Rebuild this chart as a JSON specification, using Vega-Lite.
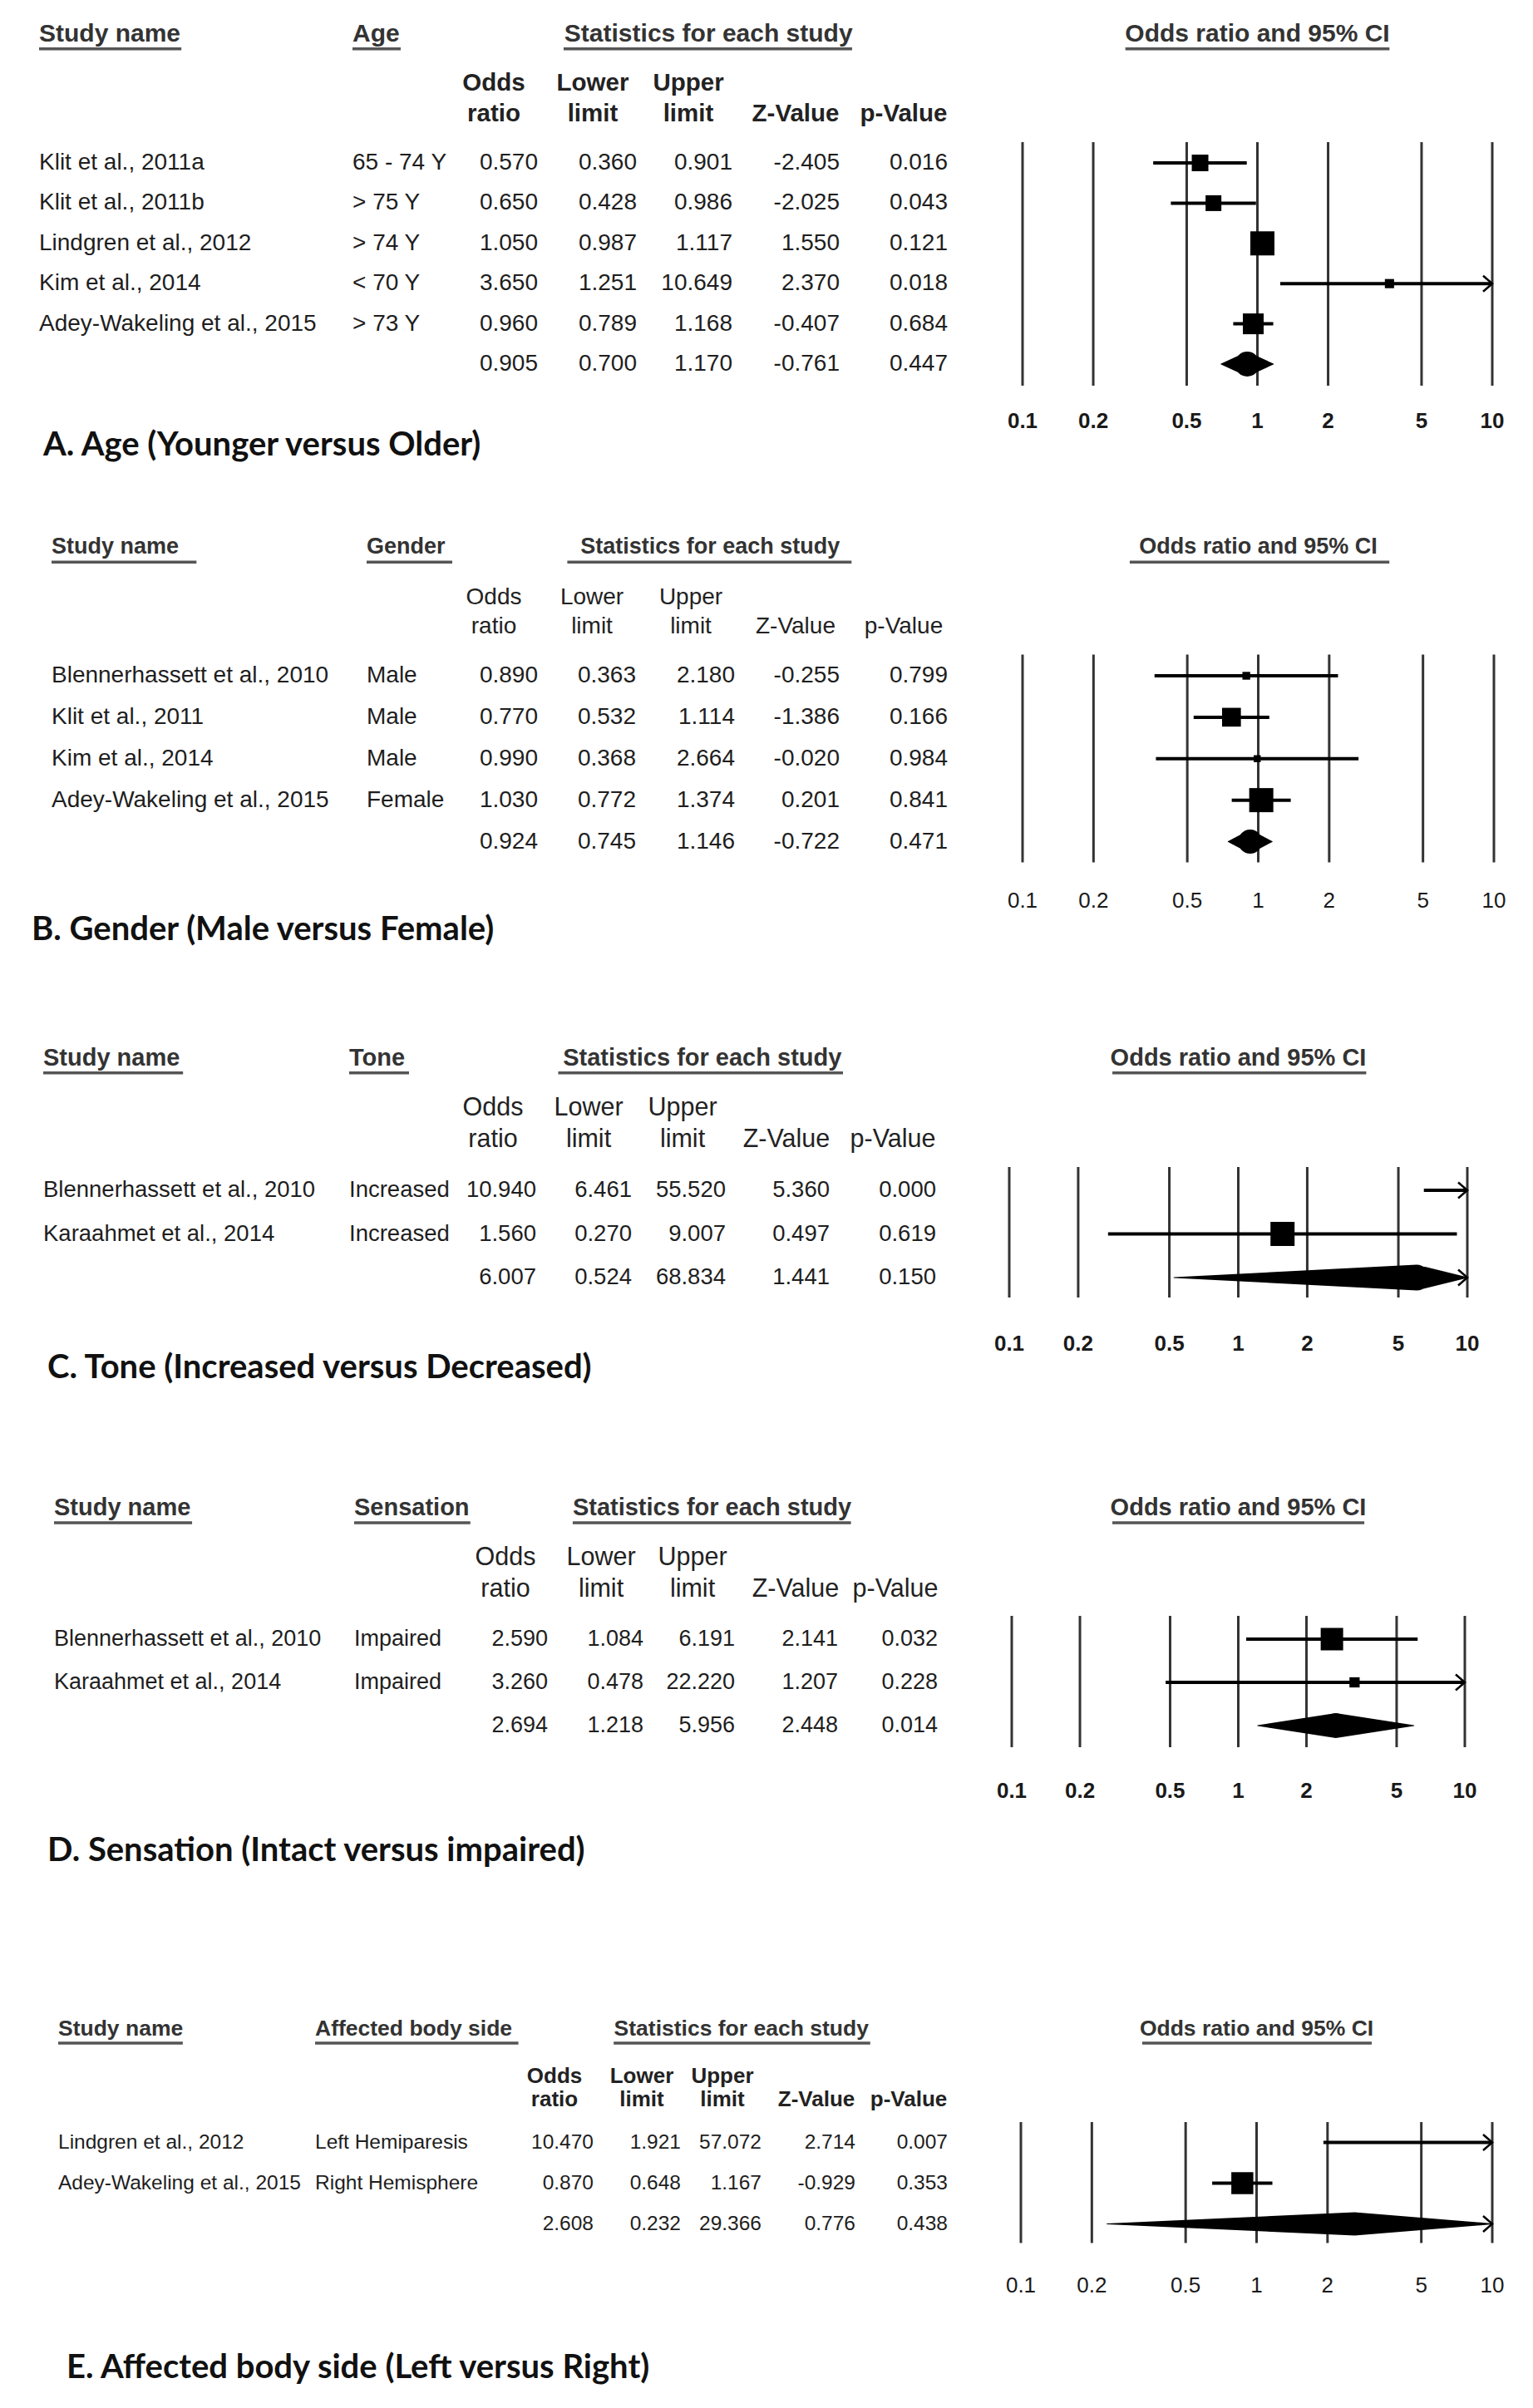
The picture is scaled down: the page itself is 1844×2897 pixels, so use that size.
{
"$schema": "https://vega.github.io/schema/vega-lite/v6.json",
"background": "white",
"padding": 0,
"spacing": 0,
"resolve": {"scale": {"size": "independent"}},
"config": {
  "view": {"stroke": null},
  "axis": {"disable": true},
  "legend": {"disable": true},
  "font": "Liberation Sans",
  "locale": {"number": {"decimal": ".", "thousands": ",", "grouping": [3], "currency": ["$", ""], "minus": "-"}}
},
"datasets": {
  "A": [
    {"row": 2, "study": "Klit et al., 2011a", "grp": "65 - 74 Y", "or": 0.570, "lo": 0.360, "hi": 0.901, "z": -2.405, "p": 0.016, "weight": 17.0},
    {"row": 3, "study": "Klit et al., 2011b", "grp": "> 75 Y", "or": 0.650, "lo": 0.428, "hi": 0.986, "z": -2.025, "p": 0.043, "weight": 15.4},
    {"row": 4, "study": "Lindgren et al., 2012", "grp": "> 74 Y", "or": 1.050, "lo": 0.987, "hi": 1.117, "z": 1.550, "p": 0.121, "weight": 35.8},
    {"row": 5, "study": "Kim et al., 2014", "grp": "< 70 Y", "or": 3.650, "lo": 1.251, "hi": 10.649, "z": 2.370, "p": 0.018, "weight": 5.2},
    {"row": 6, "study": "Adey-Wakeling et al., 2015", "grp": "> 73 Y", "or": 0.960, "lo": 0.789, "hi": 1.168, "z": -0.407, "p": 0.684, "weight": 26.6},
    {"row": 7, "or": 0.905, "lo": 0.700, "hi": 1.170, "z": -0.761, "p": 0.447}
  ],
  "B": [
    {"row": 2, "study": "Blennerhassett et al., 2010", "grp": "Male", "or": 0.890, "lo": 0.363, "hi": 2.180, "z": -0.255, "p": 0.799, "weight": 5.8},
    {"row": 3, "study": "Klit et al., 2011", "grp": "Male", "or": 0.770, "lo": 0.532, "hi": 1.114, "z": -1.386, "p": 0.166, "weight": 33.9},
    {"row": 4, "study": "Kim et al., 2014", "grp": "Male", "or": 0.990, "lo": 0.368, "hi": 2.664, "z": -0.020, "p": 0.984, "weight": 4.7},
    {"row": 5, "study": "Adey-Wakeling et al., 2015", "grp": "Female", "or": 1.030, "lo": 0.772, "hi": 1.374, "z": 0.201, "p": 0.841, "weight": 55.7},
    {"row": 6, "or": 0.924, "lo": 0.745, "hi": 1.146, "z": -0.722, "p": 0.471}
  ],
  "C": [
    {"row": 2, "study": "Blennerhassett et al., 2010", "grp": "Increased", "or": 10.940, "lo": 6.461, "hi": 55.520, "z": 5.360, "p": 0.000, "weight": 52.0},
    {"row": 3, "study": "Karaahmet et al., 2014", "grp": "Increased", "or": 1.560, "lo": 0.270, "hi": 9.007, "z": 0.497, "p": 0.619, "weight": 48.0},
    {"row": 4, "or": 6.007, "lo": 0.524, "hi": 68.834, "z": 1.441, "p": 0.150}
  ],
  "D": [
    {"row": 2, "study": "Blennerhassett et al., 2010", "grp": "Impaired", "or": 2.590, "lo": 1.084, "hi": 6.191, "z": 2.141, "p": 0.032, "weight": 82.9},
    {"row": 3, "study": "Karaahmet et al., 2014", "grp": "Impaired", "or": 3.260, "lo": 0.478, "hi": 22.220, "z": 1.207, "p": 0.228, "weight": 17.1},
    {"row": 4, "or": 2.694, "lo": 1.218, "hi": 5.956, "z": 2.448, "p": 0.014}
  ],
  "E": [
    {"row": 2, "study": "Lindgren et al., 2012", "grp": "Left Hemiparesis", "or": 10.470, "lo": 1.921, "hi": 57.072, "z": 2.714, "p": 0.007, "weight": 44.3},
    {"row": 3, "study": "Adey-Wakeling et al., 2015", "grp": "Right Hemisphere", "or": 0.870, "lo": 0.648, "hi": 1.167, "z": -0.929, "p": 0.353, "weight": 55.7},
    {"row": 4, "or": 2.608, "lo": 0.232, "hi": 29.366, "z": 0.776, "p": 0.438}
  ],
  "ticks": [{"t": 0.1}, {"t": 0.2}, {"t": 0.5}, {"t": 1}, {"t": 2}, {"t": 5}, {"t": 10}],
  "colheads": [{"col": 2, "label": "Odds\nratio"}, {"col": 3, "label": "Lower\nlimit"}, {"col": 4, "label": "Upper\nlimit"}, {"col": 5, "label": "\nZ-Value"}, {"col": 6, "label": "\np-Value"}],
  "one": [{}]
},
"vconcat": [
{"hconcat": [
  {"width": 1190, "height": 600, "data": {"name": "A"}, "layer": [
    {"transform": [{"filter": "isValid(datum.study)"}], "mark": {"type": "text", "align": "left", "baseline": "middle", "fontSize": 28, "fill": "#1e1e1e"}, "encoding": {"x": {"datum": 0, "type": "quantitative", "scale": {"domain": [0,1,2,3,4,5,6], "range": [47,424,647,766,881,1010,1140], "zero": false, "nice": false}}, "y": {"field": "row", "type": "quantitative", "scale": {"domain": [0,1,1.5,2,7,7.5,8,9], "range": [41,100,171,196,438,464,507,536], "zero": false, "nice": false}}, "text": {"field": "study"}}},
    {"transform": [{"filter": "isValid(datum.study)"}], "mark": {"type": "text", "align": "left", "baseline": "middle", "fontSize": 28, "fill": "#1e1e1e"}, "encoding": {"x": {"datum": 1, "type": "quantitative", "scale": {"domain": [0,1,2,3,4,5,6], "range": [47,424,647,766,881,1010,1140], "zero": false, "nice": false}}, "y": {"field": "row", "type": "quantitative", "scale": {"domain": [0,1,1.5,2,7,7.5,8,9], "range": [41,100,171,196,438,464,507,536], "zero": false, "nice": false}}, "text": {"field": "grp"}}},
    {"mark": {"type": "text", "align": "right", "baseline": "middle", "fontSize": 28, "fill": "#1e1e1e"}, "encoding": {"x": {"datum": 2, "type": "quantitative", "scale": {"domain": [0,1,2,3,4,5,6], "range": [47,424,647,766,881,1010,1140], "zero": false, "nice": false}}, "y": {"field": "row", "type": "quantitative", "scale": {"domain": [0,1,1.5,2,7,7.5,8,9], "range": [41,100,171,196,438,464,507,536], "zero": false, "nice": false}}, "text": {"field": "or", "type": "quantitative", "format": ".3f"}}},
    {"mark": {"type": "text", "align": "right", "baseline": "middle", "fontSize": 28, "fill": "#1e1e1e"}, "encoding": {"x": {"datum": 3, "type": "quantitative", "scale": {"domain": [0,1,2,3,4,5,6], "range": [47,424,647,766,881,1010,1140], "zero": false, "nice": false}}, "y": {"field": "row", "type": "quantitative", "scale": {"domain": [0,1,1.5,2,7,7.5,8,9], "range": [41,100,171,196,438,464,507,536], "zero": false, "nice": false}}, "text": {"field": "lo", "type": "quantitative", "format": ".3f"}}},
    {"mark": {"type": "text", "align": "right", "baseline": "middle", "fontSize": 28, "fill": "#1e1e1e"}, "encoding": {"x": {"datum": 4, "type": "quantitative", "scale": {"domain": [0,1,2,3,4,5,6], "range": [47,424,647,766,881,1010,1140], "zero": false, "nice": false}}, "y": {"field": "row", "type": "quantitative", "scale": {"domain": [0,1,1.5,2,7,7.5,8,9], "range": [41,100,171,196,438,464,507,536], "zero": false, "nice": false}}, "text": {"field": "hi", "type": "quantitative", "format": ".3f"}}},
    {"mark": {"type": "text", "align": "right", "baseline": "middle", "fontSize": 28, "fill": "#1e1e1e"}, "encoding": {"x": {"datum": 5, "type": "quantitative", "scale": {"domain": [0,1,2,3,4,5,6], "range": [47,424,647,766,881,1010,1140], "zero": false, "nice": false}}, "y": {"field": "row", "type": "quantitative", "scale": {"domain": [0,1,1.5,2,7,7.5,8,9], "range": [41,100,171,196,438,464,507,536], "zero": false, "nice": false}}, "text": {"field": "z", "type": "quantitative", "format": ".3f"}}},
    {"mark": {"type": "text", "align": "right", "baseline": "middle", "fontSize": 28, "fill": "#1e1e1e"}, "encoding": {"x": {"datum": 6, "type": "quantitative", "scale": {"domain": [0,1,2,3,4,5,6], "range": [47,424,647,766,881,1010,1140], "zero": false, "nice": false}}, "y": {"field": "row", "type": "quantitative", "scale": {"domain": [0,1,1.5,2,7,7.5,8,9], "range": [41,100,171,196,438,464,507,536], "zero": false, "nice": false}}, "text": {"field": "p", "type": "quantitative", "format": ".3f"}}},
    {"data": {"name": "one"}, "mark": {"type": "text", "text": "Study name", "align": "left", "baseline": "middle", "fontSize": 30, "fontWeight": "bold", "fill": "#333"}, "encoding": {"x": {"datum": 0, "type": "quantitative", "scale": {"domain": [0,1,2,3,4,5,6], "range": [47,424,647,766,881,1010,1140], "zero": false, "nice": false}}, "y": {"datum": 0, "type": "quantitative", "scale": {"domain": [0,1,1.5,2,7,7.5,8,9], "range": [41,100,171,196,438,464,507,536], "zero": false, "nice": false}}}},
    {"data": {"name": "one"}, "mark": {"type": "text", "text": "Age", "align": "left", "baseline": "middle", "fontSize": 30, "fontWeight": "bold", "fill": "#333"}, "encoding": {"x": {"datum": 1, "type": "quantitative", "scale": {"domain": [0,1,2,3,4,5,6], "range": [47,424,647,766,881,1010,1140], "zero": false, "nice": false}}, "y": {"datum": 0, "type": "quantitative", "scale": {"domain": [0,1,1.5,2,7,7.5,8,9], "range": [41,100,171,196,438,464,507,536], "zero": false, "nice": false}}}},
    {"data": {"name": "one"}, "mark": {"type": "text", "text": "Statistics for each study", "align": "center", "baseline": "middle", "fontSize": 30, "fontWeight": "bold", "fill": "#333"}, "encoding": {"x": {"datum": 3.75, "type": "quantitative", "scale": {"domain": [0,1,2,3,4,5,6], "range": [47,424,647,766,881,1010,1140], "zero": false, "nice": false}}, "y": {"datum": 0, "type": "quantitative", "scale": {"domain": [0,1,1.5,2,7,7.5,8,9], "range": [41,100,171,196,438,464,507,536], "zero": false, "nice": false}}}},
    {"data": {"name": "colheads"}, "mark": {"type": "text", "align": "center", "baseline": "middle", "dx": -53, "lineBreak": "\n", "lineHeight": 37, "fontSize": 29.5, "fontWeight": "bold", "fill": "#222"}, "encoding": {"x": {"field": "col", "type": "quantitative", "scale": {"domain": [0,1,2,3,4,5,6], "range": [47,424,647,766,881,1010,1140], "zero": false, "nice": false}}, "y": {"datum": 1, "type": "quantitative", "scale": {"domain": [0,1,1.5,2,7,7.5,8,9], "range": [41,100,171,196,438,464,507,536], "zero": false, "nice": false}}, "text": {"field": "label"}}},
    {"data": {"name": "one"}, "mark": {"type": "rule", "strokeWidth": 3.5, "color": "#555"}, "encoding": {"x": {"datum": 0, "type": "quantitative", "scale": {"domain": [0,1,2,3,4,5,6], "range": [47,424,647,766,881,1010,1140], "zero": false, "nice": false}}, "x2": {"datum": 0.454}, "y": {"datum": 0.3, "type": "quantitative", "scale": {"domain": [0,1,1.5,2,7,7.5,8,9], "range": [41,100,171,196,438,464,507,536], "zero": false, "nice": false}}}},
    {"data": {"name": "one"}, "mark": {"type": "rule", "strokeWidth": 3.5, "color": "#555"}, "encoding": {"x": {"datum": 1, "type": "quantitative", "scale": {"domain": [0,1,2,3,4,5,6], "range": [47,424,647,766,881,1010,1140], "zero": false, "nice": false}}, "x2": {"datum": 1.26}, "y": {"datum": 0.3, "type": "quantitative", "scale": {"domain": [0,1,1.5,2,7,7.5,8,9], "range": [41,100,171,196,438,464,507,536], "zero": false, "nice": false}}}},
    {"data": {"name": "one"}, "mark": {"type": "rule", "strokeWidth": 3.5, "color": "#555"}, "encoding": {"x": {"datum": 2.26, "type": "quantitative", "scale": {"domain": [0,1,2,3,4,5,6], "range": [47,424,647,766,881,1010,1140], "zero": false, "nice": false}}, "x2": {"datum": 5.115}, "y": {"datum": 0.3, "type": "quantitative", "scale": {"domain": [0,1,1.5,2,7,7.5,8,9], "range": [41,100,171,196,438,464,507,536], "zero": false, "nice": false}}}},
    {"data": {"name": "one"}, "mark": {"type": "text", "text": "A. Age (Younger versus Older)", "align": "left", "baseline": "middle", "dx": 5, "font": "Lato", "fontSize": 40, "fontWeight": "bold", "fill": "#111"}, "encoding": {"x": {"datum": 0, "type": "quantitative", "scale": {"domain": [0,1,2,3,4,5,6], "range": [47,424,647,766,881,1010,1140], "zero": false, "nice": false}}, "y": {"datum": 9, "type": "quantitative", "scale": {"domain": [0,1,1.5,2,7,7.5,8,9], "range": [41,100,171,196,438,464,507,536], "zero": false, "nice": false}}}}
  ]},
  {"width": 565, "height": 600, "data": {"name": "A"}, "layer": [
    {"data": {"name": "ticks"}, "mark": {"type": "rule", "strokeWidth": 3, "color": "#333"}, "encoding": {"x": {"field": "t", "type": "quantitative", "scale": {"type": "log", "domain": [0.1, 10], "clamp": true, "nice": false}}, "y": {"datum": 1.5, "type": "quantitative", "scale": {"domain": [0,1,1.5,2,7,7.5,8,9], "range": [41,100,171,196,438,464,507,536], "zero": false, "nice": false}}, "y2": {"datum": 7.5}}},
    {"data": {"name": "ticks"}, "mark": {"type": "text", "baseline": "middle", "fontSize": 26, "fontWeight": "bold", "fill": "#1a1a1a"}, "encoding": {"x": {"field": "t", "type": "quantitative", "scale": {"type": "log", "domain": [0.1, 10], "clamp": true, "nice": false}}, "y": {"datum": 8, "type": "quantitative", "scale": {"domain": [0,1,1.5,2,7,7.5,8,9], "range": [41,100,171,196,438,464,507,536], "zero": false, "nice": false}}, "text": {"field": "t", "type": "quantitative", "format": "~g"}}},
    {"data": {"name": "one"}, "mark": {"type": "text", "text": "Odds ratio and 95% CI", "baseline": "middle", "fontSize": 30, "fontWeight": "bold", "fill": "#333"}, "encoding": {"x": {"datum": 1, "type": "quantitative", "scale": {"type": "log", "domain": [0.1, 10], "clamp": true, "nice": false}}, "y": {"datum": 0, "type": "quantitative", "scale": {"domain": [0,1,1.5,2,7,7.5,8,9], "range": [41,100,171,196,438,464,507,536], "zero": false, "nice": false}}}},
    {"data": {"name": "one"}, "mark": {"type": "rule", "strokeWidth": 3.5, "color": "#555"}, "encoding": {"x": {"datum": 0.274, "type": "quantitative", "scale": {"type": "log", "domain": [0.1, 10], "clamp": true, "nice": false}}, "x2": {"datum": 3.65}, "y": {"datum": 0.3, "type": "quantitative", "scale": {"domain": [0,1,1.5,2,7,7.5,8,9], "range": [41,100,171,196,438,464,507,536], "zero": false, "nice": false}}}},
    {"transform": [{"filter": "isValid(datum.study)"}], "mark": {"type": "rule", "strokeWidth": 4, "color": "black"}, "encoding": {"x": {"field": "lo", "type": "quantitative", "scale": {"type": "log", "domain": [0.1, 10], "clamp": true, "nice": false}}, "x2": {"field": "hi"}, "y": {"field": "row", "type": "quantitative", "scale": {"domain": [0,1,1.5,2,7,7.5,8,9], "range": [41,100,171,196,438,464,507,536], "zero": false, "nice": false}}}},
    {"transform": [{"filter": "isValid(datum.study) && datum.or <= 10"}], "mark": {"type": "point", "shape": "square", "filled": true, "color": "black", "opacity": 1}, "encoding": {"x": {"field": "or", "type": "quantitative", "scale": {"type": "log", "domain": [0.1, 10], "clamp": true, "nice": false}}, "y": {"field": "row", "type": "quantitative", "scale": {"domain": [0,1,1.5,2,7,7.5,8,9], "range": [41,100,171,196,438,464,507,536], "zero": false, "nice": false}}, "size": {"field": "weight", "type": "quantitative", "scale": {"domain": [0, 35.8], "range": [0, 841]}, "legend": null}}},
    {"transform": [{"filter": "datum.hi > 10"}], "mark": {"type": "point", "shape": "M-1.1,-0.95L0,0L-1.1,0.95", "filled": false, "stroke": "black", "strokeWidth": 2.5, "size": 400, "opacity": 1}, "encoding": {"x": {"datum": 10, "type": "quantitative", "scale": {"type": "log", "domain": [0.1, 10], "clamp": true, "nice": false}}, "y": {"field": "row", "type": "quantitative", "scale": {"domain": [0,1,1.5,2,7,7.5,8,9], "range": [41,100,171,196,438,464,507,536], "zero": false, "nice": false}}}},
    {"transform": [{"filter": "!isValid(datum.study)"}, {"fold": ["lo", "or", "hi"]}], "mark": {"type": "trail", "color": "black"}, "encoding": {"x": {"field": "value", "type": "quantitative", "scale": {"type": "log", "domain": [0.1, 10], "clamp": true, "nice": false}}, "y": {"field": "row", "type": "quantitative", "scale": {"domain": [0,1,1.5,2,7,7.5,8,9], "range": [41,100,171,196,438,464,507,536], "zero": false, "nice": false}}, "size": {"condition": {"test": "datum.key === 'or'", "value": 30}, "value": 0}}}
  ]}
], "spacing": 40, "bounds": "flush", "resolve": {"scale": {"size": "independent"}}},

{"hconcat": [
  {"width": 1190, "height": 600, "data": {"name": "B"}, "layer": [
    {"transform": [{"filter": "isValid(datum.study)"}], "mark": {"type": "text", "align": "left", "baseline": "middle", "fontSize": 28, "fill": "#1e1e1e"}, "encoding": {"x": {"datum": 0, "type": "quantitative", "scale": {"domain": [0,1,2,3,4,5,6], "range": [62,441,647,765,884,1010,1140], "zero": false, "nice": false}}, "y": {"field": "row", "type": "quantitative", "scale": {"domain": [0,1,1.5,2,6,6.5,7,8], "range": [58,119,187.5,213,412.5,437.5,484,519], "zero": false, "nice": false}}, "text": {"field": "study"}}},
    {"transform": [{"filter": "isValid(datum.study)"}], "mark": {"type": "text", "align": "left", "baseline": "middle", "fontSize": 28, "fill": "#1e1e1e"}, "encoding": {"x": {"datum": 1, "type": "quantitative", "scale": {"domain": [0,1,2,3,4,5,6], "range": [62,441,647,765,884,1010,1140], "zero": false, "nice": false}}, "y": {"field": "row", "type": "quantitative", "scale": {"domain": [0,1,1.5,2,6,6.5,7,8], "range": [58,119,187.5,213,412.5,437.5,484,519], "zero": false, "nice": false}}, "text": {"field": "grp"}}},
    {"mark": {"type": "text", "align": "right", "baseline": "middle", "fontSize": 28, "fill": "#1e1e1e"}, "encoding": {"x": {"datum": 2, "type": "quantitative", "scale": {"domain": [0,1,2,3,4,5,6], "range": [62,441,647,765,884,1010,1140], "zero": false, "nice": false}}, "y": {"field": "row", "type": "quantitative", "scale": {"domain": [0,1,1.5,2,6,6.5,7,8], "range": [58,119,187.5,213,412.5,437.5,484,519], "zero": false, "nice": false}}, "text": {"field": "or", "type": "quantitative", "format": ".3f"}}},
    {"mark": {"type": "text", "align": "right", "baseline": "middle", "fontSize": 28, "fill": "#1e1e1e"}, "encoding": {"x": {"datum": 3, "type": "quantitative", "scale": {"domain": [0,1,2,3,4,5,6], "range": [62,441,647,765,884,1010,1140], "zero": false, "nice": false}}, "y": {"field": "row", "type": "quantitative", "scale": {"domain": [0,1,1.5,2,6,6.5,7,8], "range": [58,119,187.5,213,412.5,437.5,484,519], "zero": false, "nice": false}}, "text": {"field": "lo", "type": "quantitative", "format": ".3f"}}},
    {"mark": {"type": "text", "align": "right", "baseline": "middle", "fontSize": 28, "fill": "#1e1e1e"}, "encoding": {"x": {"datum": 4, "type": "quantitative", "scale": {"domain": [0,1,2,3,4,5,6], "range": [62,441,647,765,884,1010,1140], "zero": false, "nice": false}}, "y": {"field": "row", "type": "quantitative", "scale": {"domain": [0,1,1.5,2,6,6.5,7,8], "range": [58,119,187.5,213,412.5,437.5,484,519], "zero": false, "nice": false}}, "text": {"field": "hi", "type": "quantitative", "format": ".3f"}}},
    {"mark": {"type": "text", "align": "right", "baseline": "middle", "fontSize": 28, "fill": "#1e1e1e"}, "encoding": {"x": {"datum": 5, "type": "quantitative", "scale": {"domain": [0,1,2,3,4,5,6], "range": [62,441,647,765,884,1010,1140], "zero": false, "nice": false}}, "y": {"field": "row", "type": "quantitative", "scale": {"domain": [0,1,1.5,2,6,6.5,7,8], "range": [58,119,187.5,213,412.5,437.5,484,519], "zero": false, "nice": false}}, "text": {"field": "z", "type": "quantitative", "format": ".3f"}}},
    {"mark": {"type": "text", "align": "right", "baseline": "middle", "fontSize": 28, "fill": "#1e1e1e"}, "encoding": {"x": {"datum": 6, "type": "quantitative", "scale": {"domain": [0,1,2,3,4,5,6], "range": [62,441,647,765,884,1010,1140], "zero": false, "nice": false}}, "y": {"field": "row", "type": "quantitative", "scale": {"domain": [0,1,1.5,2,6,6.5,7,8], "range": [58,119,187.5,213,412.5,437.5,484,519], "zero": false, "nice": false}}, "text": {"field": "p", "type": "quantitative", "format": ".3f"}}},
    {"data": {"name": "one"}, "mark": {"type": "text", "text": "Study name", "align": "left", "baseline": "middle", "fontSize": 27, "fontWeight": "bold", "fill": "#333"}, "encoding": {"x": {"datum": 0, "type": "quantitative", "scale": {"domain": [0,1,2,3,4,5,6], "range": [62,441,647,765,884,1010,1140], "zero": false, "nice": false}}, "y": {"datum": 0, "type": "quantitative", "scale": {"domain": [0,1,1.5,2,6,6.5,7,8], "range": [58,119,187.5,213,412.5,437.5,484,519], "zero": false, "nice": false}}}},
    {"data": {"name": "one"}, "mark": {"type": "text", "text": "Gender", "align": "left", "baseline": "middle", "fontSize": 27, "fontWeight": "bold", "fill": "#333"}, "encoding": {"x": {"datum": 1, "type": "quantitative", "scale": {"domain": [0,1,2,3,4,5,6], "range": [62,441,647,765,884,1010,1140], "zero": false, "nice": false}}, "y": {"datum": 0, "type": "quantitative", "scale": {"domain": [0,1,1.5,2,6,6.5,7,8], "range": [58,119,187.5,213,412.5,437.5,484,519], "zero": false, "nice": false}}}},
    {"data": {"name": "one"}, "mark": {"type": "text", "text": "Statistics for each study", "align": "center", "baseline": "middle", "fontSize": 27, "fontWeight": "bold", "fill": "#333"}, "encoding": {"x": {"datum": 3.75, "type": "quantitative", "scale": {"domain": [0,1,2,3,4,5,6], "range": [62,441,647,765,884,1010,1140], "zero": false, "nice": false}}, "y": {"datum": 0, "type": "quantitative", "scale": {"domain": [0,1,1.5,2,6,6.5,7,8], "range": [58,119,187.5,213,412.5,437.5,484,519], "zero": false, "nice": false}}}},
    {"data": {"name": "colheads"}, "mark": {"type": "text", "align": "center", "baseline": "middle", "dx": -53, "lineBreak": "\n", "lineHeight": 35, "fontSize": 28, "fill": "#222"}, "encoding": {"x": {"field": "col", "type": "quantitative", "scale": {"domain": [0,1,2,3,4,5,6], "range": [62,441,647,765,884,1010,1140], "zero": false, "nice": false}}, "y": {"datum": 1, "type": "quantitative", "scale": {"domain": [0,1,1.5,2,6,6.5,7,8], "range": [58,119,187.5,213,412.5,437.5,484,519], "zero": false, "nice": false}}, "text": {"field": "label"}}},
    {"data": {"name": "one"}, "mark": {"type": "rule", "strokeWidth": 3.5, "color": "#555"}, "encoding": {"x": {"datum": 0, "type": "quantitative", "scale": {"domain": [0,1,2,3,4,5,6], "range": [62,441,647,765,884,1010,1140], "zero": false, "nice": false}}, "x2": {"datum": 0.46}, "y": {"datum": 0.3, "type": "quantitative", "scale": {"domain": [0,1,1.5,2,6,6.5,7,8], "range": [58,119,187.5,213,412.5,437.5,484,519], "zero": false, "nice": false}}}},
    {"data": {"name": "one"}, "mark": {"type": "rule", "strokeWidth": 3.5, "color": "#555"}, "encoding": {"x": {"datum": 1, "type": "quantitative", "scale": {"domain": [0,1,2,3,4,5,6], "range": [62,441,647,765,884,1010,1140], "zero": false, "nice": false}}, "x2": {"datum": 1.5}, "y": {"datum": 0.3, "type": "quantitative", "scale": {"domain": [0,1,1.5,2,6,6.5,7,8], "range": [58,119,187.5,213,412.5,437.5,484,519], "zero": false, "nice": false}}}},
    {"data": {"name": "one"}, "mark": {"type": "rule", "strokeWidth": 3.5, "color": "#555"}, "encoding": {"x": {"datum": 2.3, "type": "quantitative", "scale": {"domain": [0,1,2,3,4,5,6], "range": [62,441,647,765,884,1010,1140], "zero": false, "nice": false}}, "x2": {"datum": 5.11}, "y": {"datum": 0.3, "type": "quantitative", "scale": {"domain": [0,1,1.5,2,6,6.5,7,8], "range": [58,119,187.5,213,412.5,437.5,484,519], "zero": false, "nice": false}}}},
    {"data": {"name": "one"}, "mark": {"type": "text", "text": "B. Gender (Male versus Female)", "align": "left", "baseline": "middle", "dx": -24, "font": "Lato", "fontSize": 40, "fontWeight": "bold", "fill": "#111"}, "encoding": {"x": {"datum": 0, "type": "quantitative", "scale": {"domain": [0,1,2,3,4,5,6], "range": [62,441,647,765,884,1010,1140], "zero": false, "nice": false}}, "y": {"datum": 8, "type": "quantitative", "scale": {"domain": [0,1,1.5,2,6,6.5,7,8], "range": [58,119,187.5,213,412.5,437.5,484,519], "zero": false, "nice": false}}}}
  ]},
  {"width": 567, "height": 600, "data": {"name": "B"}, "layer": [
    {"data": {"name": "ticks"}, "mark": {"type": "rule", "strokeWidth": 3, "color": "#333"}, "encoding": {"x": {"field": "t", "type": "quantitative", "scale": {"type": "log", "domain": [0.1, 10], "clamp": true, "nice": false}}, "y": {"datum": 1.5, "type": "quantitative", "scale": {"domain": [0,1,1.5,2,6,6.5,7,8], "range": [58,119,187.5,213,412.5,437.5,484,519], "zero": false, "nice": false}}, "y2": {"datum": 6.5}}},
    {"data": {"name": "ticks"}, "mark": {"type": "text", "baseline": "middle", "fontSize": 26, "fill": "#1a1a1a"}, "encoding": {"x": {"field": "t", "type": "quantitative", "scale": {"type": "log", "domain": [0.1, 10], "clamp": true, "nice": false}}, "y": {"datum": 7, "type": "quantitative", "scale": {"domain": [0,1,1.5,2,6,6.5,7,8], "range": [58,119,187.5,213,412.5,437.5,484,519], "zero": false, "nice": false}}, "text": {"field": "t", "type": "quantitative", "format": "~g"}}},
    {"data": {"name": "one"}, "mark": {"type": "text", "text": "Odds ratio and 95% CI", "baseline": "middle", "fontSize": 27, "fontWeight": "bold", "fill": "#333"}, "encoding": {"x": {"datum": 1, "type": "quantitative", "scale": {"type": "log", "domain": [0.1, 10], "clamp": true, "nice": false}}, "y": {"datum": 0, "type": "quantitative", "scale": {"domain": [0,1,1.5,2,6,6.5,7,8], "range": [58,119,187.5,213,412.5,437.5,484,519], "zero": false, "nice": false}}}},
    {"data": {"name": "one"}, "mark": {"type": "rule", "strokeWidth": 3.5, "color": "#555"}, "encoding": {"x": {"datum": 0.285, "type": "quantitative", "scale": {"type": "log", "domain": [0.1, 10], "clamp": true, "nice": false}}, "x2": {"datum": 3.6}, "y": {"datum": 0.3, "type": "quantitative", "scale": {"domain": [0,1,1.5,2,6,6.5,7,8], "range": [58,119,187.5,213,412.5,437.5,484,519], "zero": false, "nice": false}}}},
    {"transform": [{"filter": "isValid(datum.study)"}], "mark": {"type": "rule", "strokeWidth": 4, "color": "black"}, "encoding": {"x": {"field": "lo", "type": "quantitative", "scale": {"type": "log", "domain": [0.1, 10], "clamp": true, "nice": false}}, "x2": {"field": "hi"}, "y": {"field": "row", "type": "quantitative", "scale": {"domain": [0,1,1.5,2,6,6.5,7,8], "range": [58,119,187.5,213,412.5,437.5,484,519], "zero": false, "nice": false}}}},
    {"transform": [{"filter": "isValid(datum.study) && datum.or <= 10"}], "mark": {"type": "point", "shape": "square", "filled": true, "color": "black", "opacity": 1}, "encoding": {"x": {"field": "or", "type": "quantitative", "scale": {"type": "log", "domain": [0.1, 10], "clamp": true, "nice": false}}, "y": {"field": "row", "type": "quantitative", "scale": {"domain": [0,1,1.5,2,6,6.5,7,8], "range": [58,119,187.5,213,412.5,437.5,484,519], "zero": false, "nice": false}}, "size": {"field": "weight", "type": "quantitative", "scale": {"domain": [0, 55.7], "range": [0, 841]}, "legend": null}}},
    {"transform": [{"filter": "!isValid(datum.study)"}, {"fold": ["lo", "or", "hi"]}], "mark": {"type": "trail", "color": "black"}, "encoding": {"x": {"field": "value", "type": "quantitative", "scale": {"type": "log", "domain": [0.1, 10], "clamp": true, "nice": false}}, "y": {"field": "row", "type": "quantitative", "scale": {"domain": [0,1,1.5,2,6,6.5,7,8], "range": [58,119,187.5,213,412.5,437.5,484,519], "zero": false, "nice": false}}, "size": {"condition": {"test": "datum.key === 'or'", "value": 29}, "value": 0}}}
  ]}
], "spacing": 40, "bounds": "flush", "resolve": {"scale": {"size": "independent"}}},

{"hconcat": [
  {"width": 1174, "height": 520, "data": {"name": "C"}, "layer": [
    {"transform": [{"filter": "isValid(datum.study)"}], "mark": {"type": "text", "align": "left", "baseline": "middle", "fontSize": 27.5, "fill": "#1e1e1e"}, "encoding": {"x": {"datum": 0, "type": "quantitative", "scale": {"domain": [0,1,2,3,4,5,6], "range": [52,420,645,760,873,998,1126], "zero": false, "nice": false}}, "y": {"field": "row", "type": "quantitative", "scale": {"domain": [0,1,1.5,2,4,4.5,5,6], "range": [73,132.5,204,232,337,361,417,446], "zero": false, "nice": false}}, "text": {"field": "study"}}},
    {"transform": [{"filter": "isValid(datum.study)"}], "mark": {"type": "text", "align": "left", "baseline": "middle", "fontSize": 27.5, "fill": "#1e1e1e"}, "encoding": {"x": {"datum": 1, "type": "quantitative", "scale": {"domain": [0,1,2,3,4,5,6], "range": [52,420,645,760,873,998,1126], "zero": false, "nice": false}}, "y": {"field": "row", "type": "quantitative", "scale": {"domain": [0,1,1.5,2,4,4.5,5,6], "range": [73,132.5,204,232,337,361,417,446], "zero": false, "nice": false}}, "text": {"field": "grp"}}},
    {"mark": {"type": "text", "align": "right", "baseline": "middle", "fontSize": 27.5, "fill": "#1e1e1e"}, "encoding": {"x": {"datum": 2, "type": "quantitative", "scale": {"domain": [0,1,2,3,4,5,6], "range": [52,420,645,760,873,998,1126], "zero": false, "nice": false}}, "y": {"field": "row", "type": "quantitative", "scale": {"domain": [0,1,1.5,2,4,4.5,5,6], "range": [73,132.5,204,232,337,361,417,446], "zero": false, "nice": false}}, "text": {"field": "or", "type": "quantitative", "format": ".3f"}}},
    {"mark": {"type": "text", "align": "right", "baseline": "middle", "fontSize": 27.5, "fill": "#1e1e1e"}, "encoding": {"x": {"datum": 3, "type": "quantitative", "scale": {"domain": [0,1,2,3,4,5,6], "range": [52,420,645,760,873,998,1126], "zero": false, "nice": false}}, "y": {"field": "row", "type": "quantitative", "scale": {"domain": [0,1,1.5,2,4,4.5,5,6], "range": [73,132.5,204,232,337,361,417,446], "zero": false, "nice": false}}, "text": {"field": "lo", "type": "quantitative", "format": ".3f"}}},
    {"mark": {"type": "text", "align": "right", "baseline": "middle", "fontSize": 27.5, "fill": "#1e1e1e"}, "encoding": {"x": {"datum": 4, "type": "quantitative", "scale": {"domain": [0,1,2,3,4,5,6], "range": [52,420,645,760,873,998,1126], "zero": false, "nice": false}}, "y": {"field": "row", "type": "quantitative", "scale": {"domain": [0,1,1.5,2,4,4.5,5,6], "range": [73,132.5,204,232,337,361,417,446], "zero": false, "nice": false}}, "text": {"field": "hi", "type": "quantitative", "format": ".3f"}}},
    {"mark": {"type": "text", "align": "right", "baseline": "middle", "fontSize": 27.5, "fill": "#1e1e1e"}, "encoding": {"x": {"datum": 5, "type": "quantitative", "scale": {"domain": [0,1,2,3,4,5,6], "range": [52,420,645,760,873,998,1126], "zero": false, "nice": false}}, "y": {"field": "row", "type": "quantitative", "scale": {"domain": [0,1,1.5,2,4,4.5,5,6], "range": [73,132.5,204,232,337,361,417,446], "zero": false, "nice": false}}, "text": {"field": "z", "type": "quantitative", "format": ".3f"}}},
    {"mark": {"type": "text", "align": "right", "baseline": "middle", "fontSize": 27.5, "fill": "#1e1e1e"}, "encoding": {"x": {"datum": 6, "type": "quantitative", "scale": {"domain": [0,1,2,3,4,5,6], "range": [52,420,645,760,873,998,1126], "zero": false, "nice": false}}, "y": {"field": "row", "type": "quantitative", "scale": {"domain": [0,1,1.5,2,4,4.5,5,6], "range": [73,132.5,204,232,337,361,417,446], "zero": false, "nice": false}}, "text": {"field": "p", "type": "quantitative", "format": ".3f"}}},
    {"data": {"name": "one"}, "mark": {"type": "text", "text": "Study name", "align": "left", "baseline": "middle", "fontSize": 29, "fontWeight": "bold", "fill": "#333"}, "encoding": {"x": {"datum": 0, "type": "quantitative", "scale": {"domain": [0,1,2,3,4,5,6], "range": [52,420,645,760,873,998,1126], "zero": false, "nice": false}}, "y": {"datum": 0, "type": "quantitative", "scale": {"domain": [0,1,1.5,2,4,4.5,5,6], "range": [73,132.5,204,232,337,361,417,446], "zero": false, "nice": false}}}},
    {"data": {"name": "one"}, "mark": {"type": "text", "text": "Tone", "align": "left", "baseline": "middle", "fontSize": 29, "fontWeight": "bold", "fill": "#333"}, "encoding": {"x": {"datum": 1, "type": "quantitative", "scale": {"domain": [0,1,2,3,4,5,6], "range": [52,420,645,760,873,998,1126], "zero": false, "nice": false}}, "y": {"datum": 0, "type": "quantitative", "scale": {"domain": [0,1,1.5,2,4,4.5,5,6], "range": [73,132.5,204,232,337,361,417,446], "zero": false, "nice": false}}}},
    {"data": {"name": "one"}, "mark": {"type": "text", "text": "Statistics for each study", "align": "center", "baseline": "middle", "fontSize": 29, "fontWeight": "bold", "fill": "#333"}, "encoding": {"x": {"datum": 3.75, "type": "quantitative", "scale": {"domain": [0,1,2,3,4,5,6], "range": [52,420,645,760,873,998,1126], "zero": false, "nice": false}}, "y": {"datum": 0, "type": "quantitative", "scale": {"domain": [0,1,1.5,2,4,4.5,5,6], "range": [73,132.5,204,232,337,361,417,446], "zero": false, "nice": false}}}},
    {"data": {"name": "colheads"}, "mark": {"type": "text", "align": "center", "baseline": "middle", "dx": -52, "lineBreak": "\n", "lineHeight": 38, "fontSize": 30.5, "fill": "#222"}, "encoding": {"x": {"field": "col", "type": "quantitative", "scale": {"domain": [0,1,2,3,4,5,6], "range": [52,420,645,760,873,998,1126], "zero": false, "nice": false}}, "y": {"datum": 1, "type": "quantitative", "scale": {"domain": [0,1,1.5,2,4,4.5,5,6], "range": [73,132.5,204,232,337,361,417,446], "zero": false, "nice": false}}, "text": {"field": "label"}}},
    {"data": {"name": "one"}, "mark": {"type": "rule", "strokeWidth": 3.5, "color": "#555"}, "encoding": {"x": {"datum": 0, "type": "quantitative", "scale": {"domain": [0,1,2,3,4,5,6], "range": [52,420,645,760,873,998,1126], "zero": false, "nice": false}}, "x2": {"datum": 0.457}, "y": {"datum": 0.3, "type": "quantitative", "scale": {"domain": [0,1,1.5,2,4,4.5,5,6], "range": [73,132.5,204,232,337,361,417,446], "zero": false, "nice": false}}}},
    {"data": {"name": "one"}, "mark": {"type": "rule", "strokeWidth": 3.5, "color": "#555"}, "encoding": {"x": {"datum": 1, "type": "quantitative", "scale": {"domain": [0,1,2,3,4,5,6], "range": [52,420,645,760,873,998,1126], "zero": false, "nice": false}}, "x2": {"datum": 1.32}, "y": {"datum": 0.3, "type": "quantitative", "scale": {"domain": [0,1,1.5,2,4,4.5,5,6], "range": [73,132.5,204,232,337,361,417,446], "zero": false, "nice": false}}}},
    {"data": {"name": "one"}, "mark": {"type": "rule", "strokeWidth": 3.5, "color": "#555"}, "encoding": {"x": {"datum": 2.23, "type": "quantitative", "scale": {"domain": [0,1,2,3,4,5,6], "range": [52,420,645,760,873,998,1126], "zero": false, "nice": false}}, "x2": {"datum": 5.125}, "y": {"datum": 0.3, "type": "quantitative", "scale": {"domain": [0,1,1.5,2,4,4.5,5,6], "range": [73,132.5,204,232,337,361,417,446], "zero": false, "nice": false}}}},
    {"data": {"name": "one"}, "mark": {"type": "text", "text": "C. Tone (Increased versus Decreased)", "align": "left", "baseline": "middle", "dx": 5, "font": "Lato", "fontSize": 40, "fontWeight": "bold", "fill": "#111"}, "encoding": {"x": {"datum": 0, "type": "quantitative", "scale": {"domain": [0,1,2,3,4,5,6], "range": [52,420,645,760,873,998,1126], "zero": false, "nice": false}}, "y": {"datum": 6, "type": "quantitative", "scale": {"domain": [0,1,1.5,2,4,4.5,5,6], "range": [73,132.5,204,232,337,361,417,446], "zero": false, "nice": false}}}}
  ]},
  {"width": 551, "height": 520, "data": {"name": "C"}, "layer": [
    {"data": {"name": "ticks"}, "mark": {"type": "rule", "strokeWidth": 3, "color": "#333"}, "encoding": {"x": {"field": "t", "type": "quantitative", "scale": {"type": "log", "domain": [0.1, 10], "clamp": true, "nice": false}}, "y": {"datum": 1.5, "type": "quantitative", "scale": {"domain": [0,1,1.5,2,4,4.5,5,6], "range": [73,132.5,204,232,337,361,417,446], "zero": false, "nice": false}}, "y2": {"datum": 4.5}}},
    {"data": {"name": "ticks"}, "mark": {"type": "text", "baseline": "middle", "fontSize": 26, "fontWeight": "bold", "fill": "#1a1a1a"}, "encoding": {"x": {"field": "t", "type": "quantitative", "scale": {"type": "log", "domain": [0.1, 10], "clamp": true, "nice": false}}, "y": {"datum": 5, "type": "quantitative", "scale": {"domain": [0,1,1.5,2,4,4.5,5,6], "range": [73,132.5,204,232,337,361,417,446], "zero": false, "nice": false}}, "text": {"field": "t", "type": "quantitative", "format": "~g"}}},
    {"data": {"name": "one"}, "mark": {"type": "text", "text": "Odds ratio and 95% CI", "baseline": "middle", "fontSize": 29, "fontWeight": "bold", "fill": "#333"}, "encoding": {"x": {"datum": 1, "type": "quantitative", "scale": {"type": "log", "domain": [0.1, 10], "clamp": true, "nice": false}}, "y": {"datum": 0, "type": "quantitative", "scale": {"domain": [0,1,1.5,2,4,4.5,5,6], "range": [73,132.5,204,232,337,361,417,446], "zero": false, "nice": false}}}},
    {"data": {"name": "one"}, "mark": {"type": "rule", "strokeWidth": 3.5, "color": "#555"}, "encoding": {"x": {"datum": 0.282, "type": "quantitative", "scale": {"type": "log", "domain": [0.1, 10], "clamp": true, "nice": false}}, "x2": {"datum": 3.62}, "y": {"datum": 0.3, "type": "quantitative", "scale": {"domain": [0,1,1.5,2,4,4.5,5,6], "range": [73,132.5,204,232,337,361,417,446], "zero": false, "nice": false}}}},
    {"transform": [{"filter": "isValid(datum.study)"}], "mark": {"type": "rule", "strokeWidth": 4, "color": "black"}, "encoding": {"x": {"field": "lo", "type": "quantitative", "scale": {"type": "log", "domain": [0.1, 10], "clamp": true, "nice": false}}, "x2": {"field": "hi"}, "y": {"field": "row", "type": "quantitative", "scale": {"domain": [0,1,1.5,2,4,4.5,5,6], "range": [73,132.5,204,232,337,361,417,446], "zero": false, "nice": false}}}},
    {"transform": [{"filter": "isValid(datum.study) && datum.or <= 10"}], "mark": {"type": "point", "shape": "square", "filled": true, "color": "black", "opacity": 1}, "encoding": {"x": {"field": "or", "type": "quantitative", "scale": {"type": "log", "domain": [0.1, 10], "clamp": true, "nice": false}}, "y": {"field": "row", "type": "quantitative", "scale": {"domain": [0,1,1.5,2,4,4.5,5,6], "range": [73,132.5,204,232,337,361,417,446], "zero": false, "nice": false}}, "size": {"field": "weight", "type": "quantitative", "scale": {"domain": [0, 48], "range": [0, 841]}, "legend": null}}},
    {"transform": [{"filter": "datum.hi > 10"}], "mark": {"type": "point", "shape": "M-1.1,-0.95L0,0L-1.1,0.95", "filled": false, "stroke": "black", "strokeWidth": 2.5, "size": 400, "opacity": 1}, "encoding": {"x": {"datum": 10, "type": "quantitative", "scale": {"type": "log", "domain": [0.1, 10], "clamp": true, "nice": false}}, "y": {"field": "row", "type": "quantitative", "scale": {"domain": [0,1,1.5,2,4,4.5,5,6], "range": [73,132.5,204,232,337,361,417,446], "zero": false, "nice": false}}}},
    {"transform": [{"filter": "!isValid(datum.study)"}, {"fold": ["lo", "or", "hi"]}], "mark": {"type": "trail", "color": "black"}, "encoding": {"x": {"field": "value", "type": "quantitative", "scale": {"type": "log", "domain": [0.1, 10], "clamp": true, "nice": false}}, "y": {"field": "row", "type": "quantitative", "scale": {"domain": [0,1,1.5,2,4,4.5,5,6], "range": [73,132.5,204,232,337,361,417,446], "zero": false, "nice": false}}, "size": {"condition": {"test": "datum.key === 'or'", "value": 31}, "value": 0}}}
  ]}
], "spacing": 40, "bounds": "flush", "resolve": {"scale": {"size": "independent"}}},

{"hconcat": [
  {"width": 1177, "height": 600, "data": {"name": "D"}, "layer": [
    {"transform": [{"filter": "isValid(datum.study)"}], "mark": {"type": "text", "align": "left", "baseline": "middle", "fontSize": 27, "fill": "#1e1e1e"}, "encoding": {"x": {"datum": 0, "type": "quantitative", "scale": {"domain": [0,1,2,3,4,5,6], "range": [65,426,659,774,884,1008,1128], "zero": false, "nice": false}}, "y": {"field": "row", "type": "quantitative", "scale": {"domain": [0,1,1.5,2,4,4.5,5,6], "range": [94,154,224,252,356,382,435,507], "zero": false, "nice": false}}, "text": {"field": "study"}}},
    {"transform": [{"filter": "isValid(datum.study)"}], "mark": {"type": "text", "align": "left", "baseline": "middle", "fontSize": 27, "fill": "#1e1e1e"}, "encoding": {"x": {"datum": 1, "type": "quantitative", "scale": {"domain": [0,1,2,3,4,5,6], "range": [65,426,659,774,884,1008,1128], "zero": false, "nice": false}}, "y": {"field": "row", "type": "quantitative", "scale": {"domain": [0,1,1.5,2,4,4.5,5,6], "range": [94,154,224,252,356,382,435,507], "zero": false, "nice": false}}, "text": {"field": "grp"}}},
    {"mark": {"type": "text", "align": "right", "baseline": "middle", "fontSize": 27, "fill": "#1e1e1e"}, "encoding": {"x": {"datum": 2, "type": "quantitative", "scale": {"domain": [0,1,2,3,4,5,6], "range": [65,426,659,774,884,1008,1128], "zero": false, "nice": false}}, "y": {"field": "row", "type": "quantitative", "scale": {"domain": [0,1,1.5,2,4,4.5,5,6], "range": [94,154,224,252,356,382,435,507], "zero": false, "nice": false}}, "text": {"field": "or", "type": "quantitative", "format": ".3f"}}},
    {"mark": {"type": "text", "align": "right", "baseline": "middle", "fontSize": 27, "fill": "#1e1e1e"}, "encoding": {"x": {"datum": 3, "type": "quantitative", "scale": {"domain": [0,1,2,3,4,5,6], "range": [65,426,659,774,884,1008,1128], "zero": false, "nice": false}}, "y": {"field": "row", "type": "quantitative", "scale": {"domain": [0,1,1.5,2,4,4.5,5,6], "range": [94,154,224,252,356,382,435,507], "zero": false, "nice": false}}, "text": {"field": "lo", "type": "quantitative", "format": ".3f"}}},
    {"mark": {"type": "text", "align": "right", "baseline": "middle", "fontSize": 27, "fill": "#1e1e1e"}, "encoding": {"x": {"datum": 4, "type": "quantitative", "scale": {"domain": [0,1,2,3,4,5,6], "range": [65,426,659,774,884,1008,1128], "zero": false, "nice": false}}, "y": {"field": "row", "type": "quantitative", "scale": {"domain": [0,1,1.5,2,4,4.5,5,6], "range": [94,154,224,252,356,382,435,507], "zero": false, "nice": false}}, "text": {"field": "hi", "type": "quantitative", "format": ".3f"}}},
    {"mark": {"type": "text", "align": "right", "baseline": "middle", "fontSize": 27, "fill": "#1e1e1e"}, "encoding": {"x": {"datum": 5, "type": "quantitative", "scale": {"domain": [0,1,2,3,4,5,6], "range": [65,426,659,774,884,1008,1128], "zero": false, "nice": false}}, "y": {"field": "row", "type": "quantitative", "scale": {"domain": [0,1,1.5,2,4,4.5,5,6], "range": [94,154,224,252,356,382,435,507], "zero": false, "nice": false}}, "text": {"field": "z", "type": "quantitative", "format": ".3f"}}},
    {"mark": {"type": "text", "align": "right", "baseline": "middle", "fontSize": 27, "fill": "#1e1e1e"}, "encoding": {"x": {"datum": 6, "type": "quantitative", "scale": {"domain": [0,1,2,3,4,5,6], "range": [65,426,659,774,884,1008,1128], "zero": false, "nice": false}}, "y": {"field": "row", "type": "quantitative", "scale": {"domain": [0,1,1.5,2,4,4.5,5,6], "range": [94,154,224,252,356,382,435,507], "zero": false, "nice": false}}, "text": {"field": "p", "type": "quantitative", "format": ".3f"}}},
    {"data": {"name": "one"}, "mark": {"type": "text", "text": "Study name", "align": "left", "baseline": "middle", "fontSize": 29, "fontWeight": "bold", "fill": "#333"}, "encoding": {"x": {"datum": 0, "type": "quantitative", "scale": {"domain": [0,1,2,3,4,5,6], "range": [65,426,659,774,884,1008,1128], "zero": false, "nice": false}}, "y": {"datum": 0, "type": "quantitative", "scale": {"domain": [0,1,1.5,2,4,4.5,5,6], "range": [94,154,224,252,356,382,435,507], "zero": false, "nice": false}}}},
    {"data": {"name": "one"}, "mark": {"type": "text", "text": "Sensation", "align": "left", "baseline": "middle", "fontSize": 29, "fontWeight": "bold", "fill": "#333"}, "encoding": {"x": {"datum": 1, "type": "quantitative", "scale": {"domain": [0,1,2,3,4,5,6], "range": [65,426,659,774,884,1008,1128], "zero": false, "nice": false}}, "y": {"datum": 0, "type": "quantitative", "scale": {"domain": [0,1,1.5,2,4,4.5,5,6], "range": [94,154,224,252,356,382,435,507], "zero": false, "nice": false}}}},
    {"data": {"name": "one"}, "mark": {"type": "text", "text": "Statistics for each study", "align": "center", "baseline": "middle", "fontSize": 29, "fontWeight": "bold", "fill": "#333"}, "encoding": {"x": {"datum": 3.75, "type": "quantitative", "scale": {"domain": [0,1,2,3,4,5,6], "range": [65,426,659,774,884,1008,1128], "zero": false, "nice": false}}, "y": {"datum": 0, "type": "quantitative", "scale": {"domain": [0,1,1.5,2,4,4.5,5,6], "range": [94,154,224,252,356,382,435,507], "zero": false, "nice": false}}}},
    {"data": {"name": "colheads"}, "mark": {"type": "text", "align": "center", "baseline": "middle", "dx": -51, "lineBreak": "\n", "lineHeight": 38, "fontSize": 30.5, "fill": "#222"}, "encoding": {"x": {"field": "col", "type": "quantitative", "scale": {"domain": [0,1,2,3,4,5,6], "range": [65,426,659,774,884,1008,1128], "zero": false, "nice": false}}, "y": {"datum": 1, "type": "quantitative", "scale": {"domain": [0,1,1.5,2,4,4.5,5,6], "range": [94,154,224,252,356,382,435,507], "zero": false, "nice": false}}, "text": {"field": "label"}}},
    {"data": {"name": "one"}, "mark": {"type": "rule", "strokeWidth": 3.5, "color": "#555"}, "encoding": {"x": {"datum": 0, "type": "quantitative", "scale": {"domain": [0,1,2,3,4,5,6], "range": [65,426,659,774,884,1008,1128], "zero": false, "nice": false}}, "x2": {"datum": 0.46}, "y": {"datum": 0.3, "type": "quantitative", "scale": {"domain": [0,1,1.5,2,4,4.5,5,6], "range": [94,154,224,252,356,382,435,507], "zero": false, "nice": false}}}},
    {"data": {"name": "one"}, "mark": {"type": "rule", "strokeWidth": 3.5, "color": "#555"}, "encoding": {"x": {"datum": 1, "type": "quantitative", "scale": {"domain": [0,1,2,3,4,5,6], "range": [65,426,659,774,884,1008,1128], "zero": false, "nice": false}}, "x2": {"datum": 1.6}, "y": {"datum": 0.3, "type": "quantitative", "scale": {"domain": [0,1,1.5,2,4,4.5,5,6], "range": [94,154,224,252,356,382,435,507], "zero": false, "nice": false}}}},
    {"data": {"name": "one"}, "mark": {"type": "rule", "strokeWidth": 3.5, "color": "#555"}, "encoding": {"x": {"datum": 2.26, "type": "quantitative", "scale": {"domain": [0,1,2,3,4,5,6], "range": [65,426,659,774,884,1008,1128], "zero": false, "nice": false}}, "x2": {"datum": 5.13}, "y": {"datum": 0.3, "type": "quantitative", "scale": {"domain": [0,1,1.5,2,4,4.5,5,6], "range": [94,154,224,252,356,382,435,507], "zero": false, "nice": false}}}},
    {"data": {"name": "one"}, "mark": {"type": "text", "text": "D. Sensation (Intact versus impaired)", "align": "left", "baseline": "middle", "dx": -8, "font": "Lato", "fontSize": 40, "fontWeight": "bold", "fill": "#111"}, "encoding": {"x": {"datum": 0, "type": "quantitative", "scale": {"domain": [0,1,2,3,4,5,6], "range": [65,426,659,774,884,1008,1128], "zero": false, "nice": false}}, "y": {"datum": 6, "type": "quantitative", "scale": {"domain": [0,1,1.5,2,4,4.5,5,6], "range": [94,154,224,252,356,382,435,507], "zero": false, "nice": false}}}}
  ]},
  {"width": 545, "height": 600, "data": {"name": "D"}, "layer": [
    {"data": {"name": "ticks"}, "mark": {"type": "rule", "strokeWidth": 3, "color": "#333"}, "encoding": {"x": {"field": "t", "type": "quantitative", "scale": {"type": "log", "domain": [0.1, 10], "clamp": true, "nice": false}}, "y": {"datum": 1.5, "type": "quantitative", "scale": {"domain": [0,1,1.5,2,4,4.5,5,6], "range": [94,154,224,252,356,382,435,507], "zero": false, "nice": false}}, "y2": {"datum": 4.5}}},
    {"data": {"name": "ticks"}, "mark": {"type": "text", "baseline": "middle", "fontSize": 26, "fontWeight": "bold", "fill": "#1a1a1a"}, "encoding": {"x": {"field": "t", "type": "quantitative", "scale": {"type": "log", "domain": [0.1, 10], "clamp": true, "nice": false}}, "y": {"datum": 5, "type": "quantitative", "scale": {"domain": [0,1,1.5,2,4,4.5,5,6], "range": [94,154,224,252,356,382,435,507], "zero": false, "nice": false}}, "text": {"field": "t", "type": "quantitative", "format": "~g"}}},
    {"data": {"name": "one"}, "mark": {"type": "text", "text": "Odds ratio and 95% CI", "baseline": "middle", "fontSize": 29, "fontWeight": "bold", "fill": "#333"}, "encoding": {"x": {"datum": 1, "type": "quantitative", "scale": {"type": "log", "domain": [0.1, 10], "clamp": true, "nice": false}}, "y": {"datum": 0, "type": "quantitative", "scale": {"domain": [0,1,1.5,2,4,4.5,5,6], "range": [94,154,224,252,356,382,435,507], "zero": false, "nice": false}}}},
    {"data": {"name": "one"}, "mark": {"type": "rule", "strokeWidth": 3.5, "color": "#555"}, "encoding": {"x": {"datum": 0.278, "type": "quantitative", "scale": {"type": "log", "domain": [0.1, 10], "clamp": true, "nice": false}}, "x2": {"datum": 3.6}, "y": {"datum": 0.3, "type": "quantitative", "scale": {"domain": [0,1,1.5,2,4,4.5,5,6], "range": [94,154,224,252,356,382,435,507], "zero": false, "nice": false}}}},
    {"transform": [{"filter": "isValid(datum.study)"}], "mark": {"type": "rule", "strokeWidth": 4, "color": "black"}, "encoding": {"x": {"field": "lo", "type": "quantitative", "scale": {"type": "log", "domain": [0.1, 10], "clamp": true, "nice": false}}, "x2": {"field": "hi"}, "y": {"field": "row", "type": "quantitative", "scale": {"domain": [0,1,1.5,2,4,4.5,5,6], "range": [94,154,224,252,356,382,435,507], "zero": false, "nice": false}}}},
    {"transform": [{"filter": "isValid(datum.study) && datum.or <= 10"}], "mark": {"type": "point", "shape": "square", "filled": true, "color": "black", "opacity": 1}, "encoding": {"x": {"field": "or", "type": "quantitative", "scale": {"type": "log", "domain": [0.1, 10], "clamp": true, "nice": false}}, "y": {"field": "row", "type": "quantitative", "scale": {"domain": [0,1,1.5,2,4,4.5,5,6], "range": [94,154,224,252,356,382,435,507], "zero": false, "nice": false}}, "size": {"field": "weight", "type": "quantitative", "scale": {"domain": [0, 82.9], "range": [0, 729]}, "legend": null}}},
    {"transform": [{"filter": "datum.hi > 10"}], "mark": {"type": "point", "shape": "M-1.1,-0.95L0,0L-1.1,0.95", "filled": false, "stroke": "black", "strokeWidth": 2.5, "size": 400, "opacity": 1}, "encoding": {"x": {"datum": 10, "type": "quantitative", "scale": {"type": "log", "domain": [0.1, 10], "clamp": true, "nice": false}}, "y": {"field": "row", "type": "quantitative", "scale": {"domain": [0,1,1.5,2,4,4.5,5,6], "range": [94,154,224,252,356,382,435,507], "zero": false, "nice": false}}}},
    {"transform": [{"filter": "!isValid(datum.study)"}, {"fold": ["lo", "or", "hi"]}], "mark": {"type": "trail", "color": "black"}, "encoding": {"x": {"field": "value", "type": "quantitative", "scale": {"type": "log", "domain": [0.1, 10], "clamp": true, "nice": false}}, "y": {"field": "row", "type": "quantitative", "scale": {"domain": [0,1,1.5,2,4,4.5,5,6], "range": [94,154,224,252,356,382,435,507], "zero": false, "nice": false}}, "size": {"condition": {"test": "datum.key === 'or'", "value": 30}, "value": 0}}}
  ]}
], "spacing": 40, "bounds": "flush", "resolve": {"scale": {"size": "independent"}}},

{"hconcat": [
  {"width": 1188, "height": 577, "data": {"name": "E"}, "layer": [
    {"transform": [{"filter": "isValid(datum.study)"}], "mark": {"type": "text", "align": "left", "baseline": "middle", "fontSize": 24.5, "fill": "#1e1e1e"}, "encoding": {"x": {"datum": 0, "type": "quantitative", "scale": {"domain": [0,1,2,3,4,5,6], "range": [70,379,714,819,916,1029,1140], "zero": false, "nice": false}}, "y": {"field": "row", "type": "quantitative", "scale": {"domain": [0,1,1.5,2,4,4.5,5,6], "range": [121,177.5,233,257.5,355.5,378.5,430,528.5], "zero": false, "nice": false}}, "text": {"field": "study"}}},
    {"transform": [{"filter": "isValid(datum.study)"}], "mark": {"type": "text", "align": "left", "baseline": "middle", "fontSize": 24.5, "fill": "#1e1e1e"}, "encoding": {"x": {"datum": 1, "type": "quantitative", "scale": {"domain": [0,1,2,3,4,5,6], "range": [70,379,714,819,916,1029,1140], "zero": false, "nice": false}}, "y": {"field": "row", "type": "quantitative", "scale": {"domain": [0,1,1.5,2,4,4.5,5,6], "range": [121,177.5,233,257.5,355.5,378.5,430,528.5], "zero": false, "nice": false}}, "text": {"field": "grp"}}},
    {"mark": {"type": "text", "align": "right", "baseline": "middle", "fontSize": 24.5, "fill": "#1e1e1e"}, "encoding": {"x": {"datum": 2, "type": "quantitative", "scale": {"domain": [0,1,2,3,4,5,6], "range": [70,379,714,819,916,1029,1140], "zero": false, "nice": false}}, "y": {"field": "row", "type": "quantitative", "scale": {"domain": [0,1,1.5,2,4,4.5,5,6], "range": [121,177.5,233,257.5,355.5,378.5,430,528.5], "zero": false, "nice": false}}, "text": {"field": "or", "type": "quantitative", "format": ".3f"}}},
    {"mark": {"type": "text", "align": "right", "baseline": "middle", "fontSize": 24.5, "fill": "#1e1e1e"}, "encoding": {"x": {"datum": 3, "type": "quantitative", "scale": {"domain": [0,1,2,3,4,5,6], "range": [70,379,714,819,916,1029,1140], "zero": false, "nice": false}}, "y": {"field": "row", "type": "quantitative", "scale": {"domain": [0,1,1.5,2,4,4.5,5,6], "range": [121,177.5,233,257.5,355.5,378.5,430,528.5], "zero": false, "nice": false}}, "text": {"field": "lo", "type": "quantitative", "format": ".3f"}}},
    {"mark": {"type": "text", "align": "right", "baseline": "middle", "fontSize": 24.5, "fill": "#1e1e1e"}, "encoding": {"x": {"datum": 4, "type": "quantitative", "scale": {"domain": [0,1,2,3,4,5,6], "range": [70,379,714,819,916,1029,1140], "zero": false, "nice": false}}, "y": {"field": "row", "type": "quantitative", "scale": {"domain": [0,1,1.5,2,4,4.5,5,6], "range": [121,177.5,233,257.5,355.5,378.5,430,528.5], "zero": false, "nice": false}}, "text": {"field": "hi", "type": "quantitative", "format": ".3f"}}},
    {"mark": {"type": "text", "align": "right", "baseline": "middle", "fontSize": 24.5, "fill": "#1e1e1e"}, "encoding": {"x": {"datum": 5, "type": "quantitative", "scale": {"domain": [0,1,2,3,4,5,6], "range": [70,379,714,819,916,1029,1140], "zero": false, "nice": false}}, "y": {"field": "row", "type": "quantitative", "scale": {"domain": [0,1,1.5,2,4,4.5,5,6], "range": [121,177.5,233,257.5,355.5,378.5,430,528.5], "zero": false, "nice": false}}, "text": {"field": "z", "type": "quantitative", "format": ".3f"}}},
    {"mark": {"type": "text", "align": "right", "baseline": "middle", "fontSize": 24.5, "fill": "#1e1e1e"}, "encoding": {"x": {"datum": 6, "type": "quantitative", "scale": {"domain": [0,1,2,3,4,5,6], "range": [70,379,714,819,916,1029,1140], "zero": false, "nice": false}}, "y": {"field": "row", "type": "quantitative", "scale": {"domain": [0,1,1.5,2,4,4.5,5,6], "range": [121,177.5,233,257.5,355.5,378.5,430,528.5], "zero": false, "nice": false}}, "text": {"field": "p", "type": "quantitative", "format": ".3f"}}},
    {"data": {"name": "one"}, "mark": {"type": "text", "text": "Study name", "align": "left", "baseline": "middle", "fontSize": 26.5, "fontWeight": "bold", "fill": "#333"}, "encoding": {"x": {"datum": 0, "type": "quantitative", "scale": {"domain": [0,1,2,3,4,5,6], "range": [70,379,714,819,916,1029,1140], "zero": false, "nice": false}}, "y": {"datum": 0, "type": "quantitative", "scale": {"domain": [0,1,1.5,2,4,4.5,5,6], "range": [121,177.5,233,257.5,355.5,378.5,430,528.5], "zero": false, "nice": false}}}},
    {"data": {"name": "one"}, "mark": {"type": "text", "text": "Affected body side", "align": "left", "baseline": "middle", "fontSize": 26.5, "fontWeight": "bold", "fill": "#333"}, "encoding": {"x": {"datum": 1, "type": "quantitative", "scale": {"domain": [0,1,2,3,4,5,6], "range": [70,379,714,819,916,1029,1140], "zero": false, "nice": false}}, "y": {"datum": 0, "type": "quantitative", "scale": {"domain": [0,1,1.5,2,4,4.5,5,6], "range": [121,177.5,233,257.5,355.5,378.5,430,528.5], "zero": false, "nice": false}}}},
    {"data": {"name": "one"}, "mark": {"type": "text", "text": "Statistics for each study", "align": "center", "baseline": "middle", "fontSize": 26.5, "fontWeight": "bold", "fill": "#333"}, "encoding": {"x": {"datum": 3.75, "type": "quantitative", "scale": {"domain": [0,1,2,3,4,5,6], "range": [70,379,714,819,916,1029,1140], "zero": false, "nice": false}}, "y": {"datum": 0, "type": "quantitative", "scale": {"domain": [0,1,1.5,2,4,4.5,5,6], "range": [121,177.5,233,257.5,355.5,378.5,430,528.5], "zero": false, "nice": false}}}},
    {"data": {"name": "colheads"}, "mark": {"type": "text", "align": "center", "baseline": "middle", "dx": -47, "lineBreak": "\n", "lineHeight": 28, "fontSize": 26, "fontWeight": "bold", "fill": "#222"}, "encoding": {"x": {"field": "col", "type": "quantitative", "scale": {"domain": [0,1,2,3,4,5,6], "range": [70,379,714,819,916,1029,1140], "zero": false, "nice": false}}, "y": {"datum": 1, "type": "quantitative", "scale": {"domain": [0,1,1.5,2,4,4.5,5,6], "range": [121,177.5,233,257.5,355.5,378.5,430,528.5], "zero": false, "nice": false}}, "text": {"field": "label"}}},
    {"data": {"name": "one"}, "mark": {"type": "rule", "strokeWidth": 3.5, "color": "#555"}, "encoding": {"x": {"datum": 0, "type": "quantitative", "scale": {"domain": [0,1,2,3,4,5,6], "range": [70,379,714,819,916,1029,1140], "zero": false, "nice": false}}, "x2": {"datum": 0.485}, "y": {"datum": 0.3, "type": "quantitative", "scale": {"domain": [0,1,1.5,2,4,4.5,5,6], "range": [121,177.5,233,257.5,355.5,378.5,430,528.5], "zero": false, "nice": false}}}},
    {"data": {"name": "one"}, "mark": {"type": "rule", "strokeWidth": 3.5, "color": "#555"}, "encoding": {"x": {"datum": 1, "type": "quantitative", "scale": {"domain": [0,1,2,3,4,5,6], "range": [70,379,714,819,916,1029,1140], "zero": false, "nice": false}}, "x2": {"datum": 1.73}, "y": {"datum": 0.3, "type": "quantitative", "scale": {"domain": [0,1,1.5,2,4,4.5,5,6], "range": [121,177.5,233,257.5,355.5,378.5,430,528.5], "zero": false, "nice": false}}}},
    {"data": {"name": "one"}, "mark": {"type": "rule", "strokeWidth": 3.5, "color": "#555"}, "encoding": {"x": {"datum": 2.23, "type": "quantitative", "scale": {"domain": [0,1,2,3,4,5,6], "range": [70,379,714,819,916,1029,1140], "zero": false, "nice": false}}, "x2": {"datum": 5.16}, "y": {"datum": 0.3, "type": "quantitative", "scale": {"domain": [0,1,1.5,2,4,4.5,5,6], "range": [121,177.5,233,257.5,355.5,378.5,430,528.5], "zero": false, "nice": false}}}},
    {"data": {"name": "one"}, "mark": {"type": "text", "text": "E. Affected body side (Left versus Right)", "align": "left", "baseline": "middle", "dx": 10, "font": "Lato", "fontSize": 40, "fontWeight": "bold", "fill": "#111"}, "encoding": {"x": {"datum": 0, "type": "quantitative", "scale": {"domain": [0,1,2,3,4,5,6], "range": [70,379,714,819,916,1029,1140], "zero": false, "nice": false}}, "y": {"datum": 6, "type": "quantitative", "scale": {"domain": [0,1,1.5,2,4,4.5,5,6], "range": [121,177.5,233,257.5,355.5,378.5,430,528.5], "zero": false, "nice": false}}}}
  ]},
  {"width": 567, "height": 577, "data": {"name": "E"}, "layer": [
    {"data": {"name": "ticks"}, "mark": {"type": "rule", "strokeWidth": 3, "color": "#333"}, "encoding": {"x": {"field": "t", "type": "quantitative", "scale": {"type": "log", "domain": [0.1, 10], "clamp": true, "nice": false}}, "y": {"datum": 1.5, "type": "quantitative", "scale": {"domain": [0,1,1.5,2,4,4.5,5,6], "range": [121,177.5,233,257.5,355.5,378.5,430,528.5], "zero": false, "nice": false}}, "y2": {"datum": 4.5}}},
    {"data": {"name": "ticks"}, "mark": {"type": "text", "baseline": "middle", "fontSize": 26, "fill": "#1a1a1a"}, "encoding": {"x": {"field": "t", "type": "quantitative", "scale": {"type": "log", "domain": [0.1, 10], "clamp": true, "nice": false}}, "y": {"datum": 5, "type": "quantitative", "scale": {"domain": [0,1,1.5,2,4,4.5,5,6], "range": [121,177.5,233,257.5,355.5,378.5,430,528.5], "zero": false, "nice": false}}, "text": {"field": "t", "type": "quantitative", "format": "~g"}}},
    {"data": {"name": "one"}, "mark": {"type": "text", "text": "Odds ratio and 95% CI", "baseline": "middle", "fontSize": 26.5, "fontWeight": "bold", "fill": "#333"}, "encoding": {"x": {"datum": 1, "type": "quantitative", "scale": {"type": "log", "domain": [0.1, 10], "clamp": true, "nice": false}}, "y": {"datum": 0, "type": "quantitative", "scale": {"domain": [0,1,1.5,2,4,4.5,5,6], "range": [121,177.5,233,257.5,355.5,378.5,430,528.5], "zero": false, "nice": false}}}},
    {"data": {"name": "one"}, "mark": {"type": "rule", "strokeWidth": 3.5, "color": "#555"}, "encoding": {"x": {"datum": 0.327, "type": "quantitative", "scale": {"type": "log", "domain": [0.1, 10], "clamp": true, "nice": false}}, "x2": {"datum": 3.08}, "y": {"datum": 0.3, "type": "quantitative", "scale": {"domain": [0,1,1.5,2,4,4.5,5,6], "range": [121,177.5,233,257.5,355.5,378.5,430,528.5], "zero": false, "nice": false}}}},
    {"transform": [{"filter": "isValid(datum.study)"}], "mark": {"type": "rule", "strokeWidth": 4, "color": "black"}, "encoding": {"x": {"field": "lo", "type": "quantitative", "scale": {"type": "log", "domain": [0.1, 10], "clamp": true, "nice": false}}, "x2": {"field": "hi"}, "y": {"field": "row", "type": "quantitative", "scale": {"domain": [0,1,1.5,2,4,4.5,5,6], "range": [121,177.5,233,257.5,355.5,378.5,430,528.5], "zero": false, "nice": false}}}},
    {"transform": [{"filter": "isValid(datum.study) && datum.or <= 10"}], "mark": {"type": "point", "shape": "square", "filled": true, "color": "black", "opacity": 1}, "encoding": {"x": {"field": "or", "type": "quantitative", "scale": {"type": "log", "domain": [0.1, 10], "clamp": true, "nice": false}}, "y": {"field": "row", "type": "quantitative", "scale": {"domain": [0,1,1.5,2,4,4.5,5,6], "range": [121,177.5,233,257.5,355.5,378.5,430,528.5], "zero": false, "nice": false}}, "size": {"field": "weight", "type": "quantitative", "scale": {"domain": [0, 55.7], "range": [0, 700]}, "legend": null}}},
    {"transform": [{"filter": "datum.hi > 10"}], "mark": {"type": "point", "shape": "M-1.1,-0.95L0,0L-1.1,0.95", "filled": false, "stroke": "black", "strokeWidth": 2.5, "size": 400, "opacity": 1}, "encoding": {"x": {"datum": 10, "type": "quantitative", "scale": {"type": "log", "domain": [0.1, 10], "clamp": true, "nice": false}}, "y": {"field": "row", "type": "quantitative", "scale": {"domain": [0,1,1.5,2,4,4.5,5,6], "range": [121,177.5,233,257.5,355.5,378.5,430,528.5], "zero": false, "nice": false}}}},
    {"transform": [{"filter": "!isValid(datum.study)"}, {"fold": ["lo", "or", "hi"]}], "mark": {"type": "trail", "color": "black"}, "encoding": {"x": {"field": "value", "type": "quantitative", "scale": {"type": "log", "domain": [0.1, 10], "clamp": true, "nice": false}}, "y": {"field": "row", "type": "quantitative", "scale": {"domain": [0,1,1.5,2,4,4.5,5,6], "range": [121,177.5,233,257.5,355.5,378.5,430,528.5], "zero": false, "nice": false}}, "size": {"condition": {"test": "datum.key === 'or'", "value": 28}, "value": 0}}}
  ]}
], "spacing": 40, "bounds": "flush", "resolve": {"scale": {"size": "independent"}}}
]
}
